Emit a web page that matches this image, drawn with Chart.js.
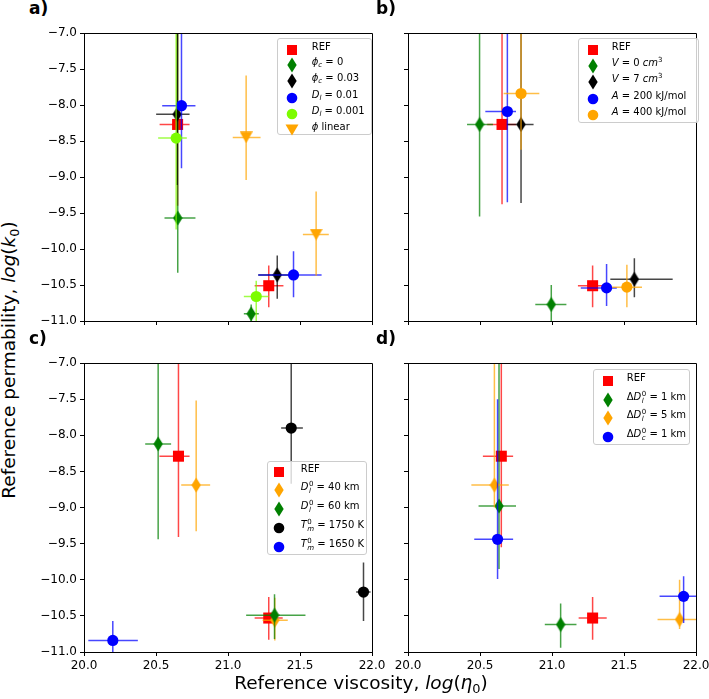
<!DOCTYPE html>
<html>
<head>
<meta charset="utf-8">
<script src="https://cdn.jsdelivr.net/npm/chart.js@4.4.0/dist/chart.umd.min.js"></script>
<style>
body { margin: 0; background: #fff; font-family: "DejaVu Sans", sans-serif; color: #000; }
#fig { position: relative; width: 709px; height: 699px; overflow: hidden; }
canvas { position: absolute; }
.lab { position: absolute; font-weight: bold; font-size: 17px; line-height: 17px; }
.title { position: absolute; font-size: 18.5px; line-height: 18.5px; white-space: nowrap; }
.leg { position: absolute; background: rgba(255,255,255,0.8); border: 1px solid #ccc; border-radius: 3px; box-sizing: border-box; }
.row { position: absolute; font-size: 10px; line-height: 12px; white-space: nowrap; }
.mk { position: absolute; }
sub { font-size: 70%; vertical-align: -0.3em; line-height: 0; }
sup { font-size: 70%; vertical-align: 0.55em; line-height: 0; }
.st { display: inline-block; vertical-align: -0.45em; font-size: 7px; line-height: 7px; margin-left: 0.5px; }
.st span { display: block; }
</style>
</head>
<body>
<div id="fig">
  <canvas id="chartA"></canvas>
  <canvas id="chartB"></canvas>
  <canvas id="chartC"></canvas>
  <canvas id="chartD"></canvas>

  <div class="lab" style="left:29px;top:0px;">a)</div>
  <div class="lab" style="left:376px;top:0px;">b)</div>
  <div class="lab" style="left:29px;top:330px;">c)</div>
  <div class="lab" style="left:376px;top:330px;">d)</div>

  <div class="title" style="left:361px;top:674px;transform:translateX(-50%);">Reference viscosity, <i>log</i>(<i>η</i><sub>0</sub>)</div>
  <div class="title" style="left:9px;top:360px;transform:translate(-50%,-50%) rotate(-90deg);">Reference permability, <i>log</i>(<i>k</i><sub>0</sub>)</div>
</div>

<script>
// ====== data ======
// each point: [x, y, x err low, x err high, y err low, y err high]
const xTicks = [20, 20.5, 21, 21.5, 22];
const yTicks = [-11, -10.5, -10, -9.5, -9, -8.5, -8, -7.5, -7];

// panel a)
const a_ref      = [[20.650, -8.27, 20.525, 20.733, -9.40, -6.5], [21.283, -10.51, 21.185, 21.385, -10.81, -10.23]];
const a_phiC0    = [[20.651, -9.57, 20.559, 20.774, -10.33, -6.5], [21.161, -10.90, 21.110, 21.214, -11.10, -10.77]];
const a_phiC003  = [[20.647, -8.13, 20.501, 20.733, -9.11, -6.5], [21.342, -10.36, 21.210, 21.450, -10.69, -10.09]];
const a_dl001    = [[20.677, -8.01, 20.543, 20.774, -8.88, -6.5], [21.455, -10.36, 21.210, 21.650, -10.67, -10.03]];
const a_dl0001   = [[20.640, -8.46, 20.515, 20.714, -9.73, -6.5], [21.196, -10.66, 21.110, 21.283, -11.10, -10.44]];
const a_phiLin   = [[21.126, -8.45, 21.033, 21.226, -9.04, -7.59], [21.612, -9.80, 21.520, 21.700, -10.37, -9.20]];

// panel b)
const b_ref      = [[20.653, -8.27, 20.550, 20.750, -9.38, -6.5], [21.282, -10.51, 21.180, 21.380, -10.81, -10.23]];
const b_v0       = [[20.497, -8.27, 20.410, 20.590, -9.55, -6.5], [20.995, -10.77, 20.884, 21.100, -11.10, -10.50]];
const b_v7       = [[20.785, -8.27, 20.687, 20.872, -9.36, -6.5], [21.572, -10.42, 21.405, 21.838, -10.67, -10.13]];
const b_a200     = [[20.690, -8.09, 20.537, 20.750, -9.35, -6.5], [21.379, -10.54, 21.200, 21.450, -10.79, -10.21]];
const b_a400     = [[20.785, -7.84, 20.664, 20.912, -8.62, -6.5], [21.520, -10.53, 21.417, 21.625, -10.81, -10.22]];

// panel c)
const c_ref      = [[20.656, -8.29, 20.524, 20.733, -9.41, -6.5], [21.283, -10.53, 21.185, 21.380, -10.83, -10.24]];
const c_dl40     = [[20.779, -8.69, 20.675, 20.876, -9.33, -7.52], [21.325, -10.56, 21.240, 21.415, -10.84, -10.25]];
const c_dl60     = [[20.515, -8.12, 20.425, 20.605, -9.44, -6.5], [21.323, -10.49, 21.126, 21.538, -10.82, -10.20]];
const c_tm1750   = [[21.439, -7.90, 21.369, 21.520, -8.67, -6.5], [21.941, -10.17, 21.890, 21.990, -10.57, -9.76]];
const c_tm1650   = [[20.200, -10.84, 20.030, 20.374, -11.10, -10.57]];

// panel d)
const d_ref      = [[20.648, -8.29, 20.520, 20.730, -9.55, -6.5], [21.282, -10.53, 21.185, 21.380, -10.83, -10.24]];
const d_ddl1     = [[20.632, -8.98, 20.490, 20.750, -9.85, -6.5], [21.060, -10.62, 20.950, 21.170, -10.94, -10.33]];
const d_ddl5     = [[20.600, -8.69, 20.440, 20.700, -9.00, -6.5], [21.886, -10.55, 21.733, 22.050, -10.68, -10.00]];
const d_ddc1     = [[20.622, -9.44, 20.460, 20.730, -9.99, -7.5], [21.914, -10.23, 21.747, 22.080, -10.60, -9.95]];

// ====== series (label, colour, marker) ======
const RED = '#ff0000', GREEN = '#008000', BLACK = '#000000', BLUE = '#0000ff', LIME = '#7cfc00', ORANGE = '#ffa500';

const seriesA = [
    { pts: a_ref,     color: RED,    marker: 'square',   label: 'REF' },
    { pts: a_phiC0,   color: GREEN,  marker: 'diamond',  label: '<i>ϕ</i><sub><i>c</i></sub> = 0' },
    { pts: a_phiC003, color: BLACK,  marker: 'diamond',  label: '<i>ϕ</i><sub><i>c</i></sub> = 0.03' },
    { pts: a_dl001,   color: BLUE,   marker: 'circle',   label: '<i>D</i><sub><i>l</i></sub> = 0.01' },
    { pts: a_dl0001,  color: LIME,   marker: 'circle',   label: '<i>D</i><sub><i>l</i></sub> = 0.001' },
    { pts: a_phiLin,  color: ORANGE, marker: 'triangle', label: '<i>ϕ</i> linear' }
];
const seriesB = [
    { pts: b_ref,  color: RED,    marker: 'square',  label: 'REF' },
    { pts: b_v0,   color: GREEN,  marker: 'diamond', label: '<i>V</i> = 0 <i>cm</i><sup>3</sup>' },
    { pts: b_v7,   color: BLACK,  marker: 'diamond', label: '<i>V</i> = 7 <i>cm</i><sup>3</sup>' },
    { pts: b_a200, color: BLUE,   marker: 'circle',  label: '<i>A</i> = 200 kJ/mol' },
    { pts: b_a400, color: ORANGE, marker: 'circle',  label: '<i>A</i> = 400 kJ/mol' }
];
const seriesC = [
    { pts: c_ref,    color: RED,    marker: 'square',  label: 'REF' },
    { pts: c_dl40,   color: ORANGE, marker: 'diamond', label: '<i>D</i><span class="st"><span>0</span><span><i>l</i></span></span> = 40 km' },
    { pts: c_dl60,   color: GREEN,  marker: 'diamond', label: '<i>D</i><span class="st"><span>0</span><span><i>l</i></span></span> = 60 km' },
    { pts: c_tm1750, color: BLACK,  marker: 'circle',  label: '<i>T</i><span class="st"><span>0</span><span><i>m</i></span></span> = 1750 K' },
    { pts: c_tm1650, color: BLUE,   marker: 'circle',  label: '<i>T</i><span class="st"><span>0</span><span><i>m</i></span></span> = 1650 K' }
];
const seriesD = [
    { pts: d_ref,  color: RED,    marker: 'square',  label: 'REF' },
    { pts: d_ddl1, color: GREEN,  marker: 'diamond', label: 'Δ<i>D</i><span class="st"><span>0</span><span><i>l</i></span></span> = 1 km' },
    { pts: d_ddl5, color: ORANGE, marker: 'diamond', label: 'Δ<i>D</i><span class="st"><span>0</span><span><i>l</i></span></span> = 5 km' },
    { pts: d_ddc1, color: BLUE,   marker: 'circle',  label: 'Δ<i>D</i><span class="st"><span>0</span><span><i>c</i></span></span> = 1 km' }
];

// ====== helpers ======
function withAlpha(hex, a) {
    const r = parseInt(hex.slice(1, 3), 16), g = parseInt(hex.slice(3, 5), 16), b = parseInt(hex.slice(5, 7), 16);
    return `rgba(${r},${g},${b},${a})`;
}

// thin diamond / triangle down as small canvases (matplotlib 'd' and 'v')
function shapeCanvas(kind, color) {
    const c = document.createElement('canvas');
    const w = kind === 'diamond' ? 10 : 13;
    const h = kind === 'diamond' ? 16 : 12;
    c.width = w; c.height = h;
    const g = c.getContext('2d');
    g.fillStyle = color;
    g.beginPath();
    if (kind === 'diamond') {
        g.moveTo(w / 2, 0.5); g.lineTo(w - 0.3, h / 2); g.lineTo(w / 2, h - 0.5); g.lineTo(0.3, h / 2);
    } else {
        g.moveTo(0, 0.3); g.lineTo(w, 0.3); g.lineTo(w / 2, h - 0.3);
    }
    g.closePath();
    g.fill();
    return c;
}

function markerStyle(kind, color) {
    if (kind === 'square') return 'rect';
    if (kind === 'circle') return 'circle';
    return shapeCanvas(kind, color);
}

function fmtTick(v) {
    return (v < 0 ? '\u2212' : '') + Math.abs(v).toFixed(1);
}

// error bars drawn just before each dataset's markers
const errorBars = {
    id: 'errorBars',
    beforeDatasetDraw(chart, args) {
        const ds = chart.data.datasets[args.index];
        const xs = chart.scales.x, ys = chart.scales.y, a = chart.chartArea, ctx = chart.ctx;
        ctx.save();
        ctx.beginPath();
        ctx.rect(a.left, a.top, a.right - a.left, a.bottom - a.top);
        ctx.clip();
        ctx.strokeStyle = ds.errColor;
        ctx.lineWidth = 1.5;
        ds.data.forEach(p => {
            const px = xs.getPixelForValue(p.x), py = ys.getPixelForValue(p.y);
            ctx.beginPath();
            ctx.moveTo(xs.getPixelForValue(p.xMin), py);
            ctx.lineTo(xs.getPixelForValue(p.xMax), py);
            ctx.moveTo(px, ys.getPixelForValue(p.yMin));
            ctx.lineTo(px, ys.getPixelForValue(p.yMax));
            ctx.stroke();
        });
        ctx.restore();
    }
};

// top and right spines
const frame = {
    id: 'frame',
    afterDraw(chart) {
        const { ctx, chartArea: a } = chart;
        ctx.save();
        ctx.strokeStyle = '#000';
        ctx.lineWidth = 1;
        ctx.beginPath();
        ctx.moveTo(a.left, a.top + 0.5);
        ctx.lineTo(a.right + 0.5, a.top + 0.5);
        ctx.lineTo(a.right + 0.5, a.bottom);
        ctx.stroke();
        ctx.restore();
    }
};

function axis(isX, showLabels) {
    const vals = isX ? xTicks : yTicks;
    return {
        type: 'linear',
        min: vals[0],
        max: vals[vals.length - 1],
        afterBuildTicks(s) { s.ticks = vals.map(v => ({ value: v })); },
        afterFit(s) {
            if (isX) s.height = 30; else s.width = 60;
            s.paddingLeft = 0; s.paddingRight = 0; s.paddingTop = 0; s.paddingBottom = 0;
        },
        ticks: {
            autoSkip: false, maxRotation: 0, padding: 3, color: '#000',
            font: { family: 'DejaVu Sans', size: 12 },
            callback: v => showLabels ? fmtTick(v) : ''
        },
        grid: { drawOnChartArea: false, drawTicks: true, tickLength: 4, color: '#000', lineWidth: 1 },
        border: { display: true, color: '#000', width: 1 }
    };
}

function buildChart(id, series, plotLeft, plotTop, plotH, showX, showY) {
    const canvas = document.getElementById(id);
    const W = 60 + 288 + 20, H = 10 + plotH + 30;
    canvas.width = W; canvas.height = H;
    canvas.style.width = W + 'px'; canvas.style.height = H + 'px';
    canvas.style.left = (plotLeft - 60) + 'px';
    canvas.style.top = (plotTop - 10) + 'px';

    const n = series.length;
    const datasets = series.map((s, i) => ({
        data: s.pts.map(p => ({ x: p[0], y: p[1], xMin: p[2], xMax: p[3], yMin: p[4], yMax: p[5] })),
        pointStyle: markerStyle(s.marker, s.color),
        pointRadius: s.marker === 'square' ? 7.8 : 5.6,
        backgroundColor: s.color,
        borderColor: s.color,
        borderWidth: 0,
        errColor: withAlpha(s.color, 0.72),
        order: n - i // later series on top, like matplotlib
    }));

    new Chart(canvas, {
        type: 'scatter',
        data: { datasets },
        options: {
            responsive: false,
            animation: false,
            events: [],
            layout: { padding: { top: 10, right: 20, left: 0, bottom: 0 } },
            plugins: { legend: { display: false }, tooltip: { enabled: false } },
            scales: { x: axis(true, showX), y: axis(false, showY) }
        },
        plugins: [errorBars, frame]
    });
}

// ====== legends (html so that sub/superscripts stay real text) ======
function legendMarker(kind, color) {
    let shape;
    if (kind === 'square') shape = `<rect x="1" y="1" width="10" height="10" fill="${color}"/>`;
    else if (kind === 'circle') shape = `<circle cx="6" cy="6" r="5.3" fill="${color}"/>`;
    else if (kind === 'diamond') shape = `<polygon points="6,-1.5 10.7,6 6,13.5 1.3,6" fill="${color}"/>`;
    else shape = `<polygon points="-0.5,0.5 12.5,0.5 6,11.5" fill="${color}"/>`;
    return `<svg width="12" height="12" viewBox="0 0 12 12" style="overflow:visible">${shape}</svg>`;
}

function buildLegend(series, box, mx, tx, rows) {
    const fig = document.getElementById('fig');
    const b = document.createElement('div');
    b.className = 'leg';
    b.style.left = box[0] + 'px'; b.style.top = box[1] + 'px';
    b.style.width = box[2] + 'px'; b.style.height = box[3] + 'px';
    fig.appendChild(b);
    series.forEach((s, i) => {
        const m = document.createElement('div');
        m.className = 'mk';
        m.style.left = (mx - 6) + 'px'; m.style.top = (rows[i] - 6) + 'px';
        m.innerHTML = legendMarker(s.marker, s.color);
        fig.appendChild(m);
        const t = document.createElement('div');
        t.className = 'row';
        t.style.left = tx + 'px'; t.style.top = (rows[i] - 6) + 'px';
        t.innerHTML = s.label;
        fig.appendChild(t);
    });
}

// ====== draw ======
buildChart('chartA', seriesA, 84, 33, 288, false, true);
buildChart('chartB', seriesB, 408, 33, 288, false, false);
buildChart('chartC', seriesC, 84, 363, 289, true, true);
buildChart('chartD', seriesD, 408, 363, 289, true, false);

buildLegend(seriesA, [277, 38, 95, 97], 291.7, 311.7, [47, 62, 78, 95, 111, 127]);
buildLegend(seriesB, [578, 38, 121, 85], 592.7, 611.7, [46.7, 63, 79.3, 96, 111.7]);
buildLegend(seriesC, [267, 461, 100, 94], 279.3, 300.7, [469, 486.7, 505.7, 525, 544.3]);
buildLegend(seriesD, [593, 369, 97, 76], 608.3, 626.7, [378.3, 396.7, 415, 434]);
</script>
</body>
</html>
